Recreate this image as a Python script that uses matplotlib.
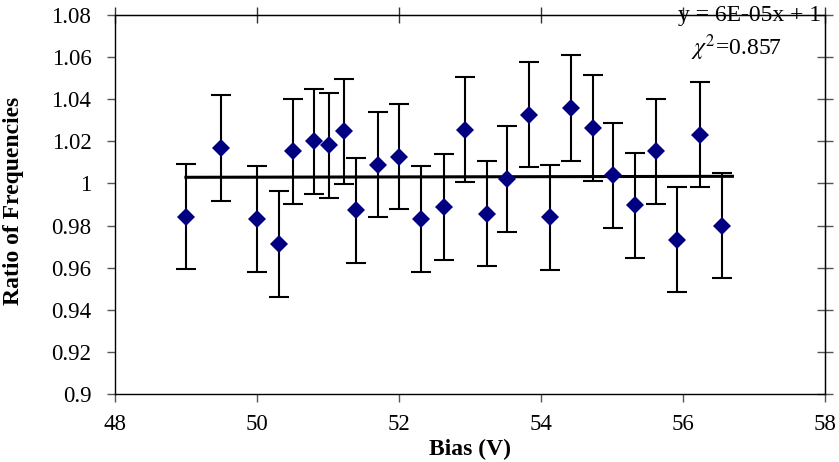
import numpy as np
import matplotlib.pyplot as plt

# data
bias = [49.0, 49.5, 50.0, 50.31, 50.51, 50.81, 51.01, 51.23, 51.40, 51.71, 52.0,
        52.31, 52.63, 52.93, 53.24, 53.53, 53.83, 54.13, 54.42, 54.73, 55.02,
        55.32, 55.62, 55.92, 56.24, 56.55]
ratio = [0.9843, 1.0168, 0.9832, 0.9712, 1.0152, 1.0200, 1.0181, 1.0247, 0.9872,
         1.0089, 1.0128, 0.9832, 0.9888, 1.0255, 0.9856, 1.0021, 1.0326, 0.9839,
         1.0358, 1.0263, 1.0038, 0.9897, 1.0152, 0.9734, 1.0231, 0.9799]
err = [0.025] * len(bias)

slope, intercept = 6e-05, 1.0
fit_x = [49.0, 56.7]

x_ticks = [48, 50, 52, 54, 56, 58]
y_ticks = [0.9, 0.92, 0.94, 0.96, 0.98, 1.0, 1.02, 1.04, 1.06, 1.08]
y_labels = ['0.9', '0.92', '0.94', '0.96', '0.98', '1', '1.02', '1.04', '1.06', '1.08']

plt.rcParams['font.family'] = ['Liberation Serif', 'DejaVu Serif']
plt.rcParams['mathtext.fontset'] = 'stix'

fig = plt.figure(figsize=(8.39, 4.62), dpi=100)
ax = fig.add_axes([0.137, 0.147, 0.846, 0.8205])

fx = np.array(fit_x)
ax.plot(fx, slope * fx + intercept, color='black', lw=2.2, zorder=2)
ax.errorbar(bias, ratio, yerr=err, fmt='none', ecolor='black', elinewidth=1.5,
            capsize=7.5, capthick=1.5, zorder=3)
ax.plot(bias, ratio, 'D', color='#000080', markersize=9.5, markeredgewidth=0, zorder=4)

ax.set_xlim(48, 58)
ax.set_ylim(0.9, 1.08)
ax.set_xticks(x_ticks)
ax.set_yticks(y_ticks)
ax.set_yticklabels(y_labels)
ax.tick_params(axis='both', labelsize=16.5, length=6, width=1, color='#555555')
ax.tick_params(axis='x', direction='out', pad=8)
ax.tick_params(axis='y', direction='out', pad=11)

# mirrored ticks on top and right, crossing the frame
ax_top = ax.secondary_xaxis('top')
ax_top.set_xticks(x_ticks)
ax_top.tick_params(direction='inout', length=12, width=1, labeltop=False, color='#333333')
ax_right = ax.secondary_yaxis('right')
ax_right.set_yticks(y_ticks)
ax_right.tick_params(direction='inout', length=12, width=1, labelright=False, color='#555555')

for s in ax.spines.values():
    s.set_linewidth(1)

ax.set_xlabel('Bias (V)', fontsize=17, fontweight='bold')
ax.xaxis.set_label_coords(0.5, -0.118)
ax.xaxis.label.set_va('top')
ax.set_ylabel('Ratio of Frequencies', fontsize=17, fontweight='bold')
ax.yaxis.set_label_coords(-0.128, 0.51)

ax.text(0.995, 0.998, 'y = 6E-05x + 1', transform=ax.transAxes, ha='right', va='center',
        fontsize=17)
ax.text(0.94, 0.915, r'$\chi^2$=0.857', transform=ax.transAxes, ha='right', va='center',
        fontsize=17)

fig.savefig('out.png', dpi=100)
